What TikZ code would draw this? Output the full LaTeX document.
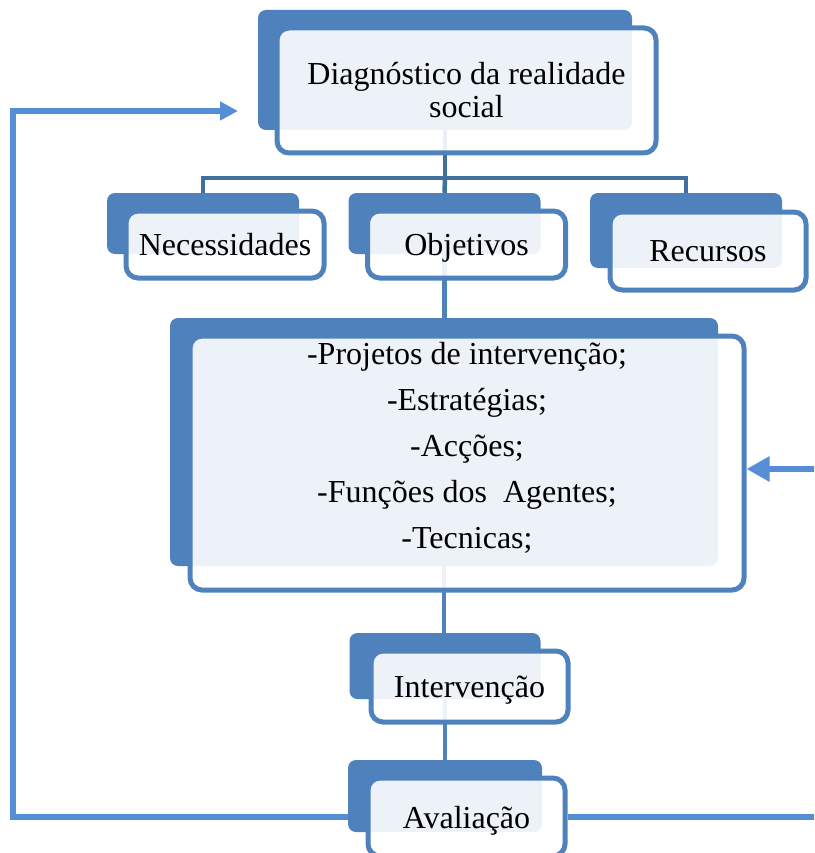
\documentclass[tikz,border=0pt]{standalone}
\usepackage{fontspec}
\setmainfont{Liberation Serif}
\usetikzlibrary{arrows.meta}
\definecolor{backblue}{HTML}{4F81BD}
\definecolor{treeblue}{HTML}{41709F}
\definecolor{loopblue}{HTML}{558ED5}
\begin{document}
\begin{tikzpicture}[x=1pt, y=-1pt,
		backbox/.style={fill=backblue, rounded corners=8pt, inner sep=0pt},
		frontbox/.style={draw=backblue, line width=5pt, fill=white, fill opacity=0.9, text opacity=1, rounded corners=12pt, inner sep=0pt, align=center, font=\fontsize{32}{33}\selectfont},
		tree/.style={draw=treeblue, line width=4.5pt},
		link/.style={draw=backblue, line width=4.5pt},
		loop/.style={draw=loopblue, line width=5.5pt}]
		\useasboundingbox (0,0) rectangle (814,853);
		\clip (0,0) rectangle (814,853);

		\node[backbox, minimum width=374pt, minimum height=120pt] (diagB) at (445,70) {};
		\node[backbox, minimum width=192pt, minimum height=61pt] (necB) at (203,223.5) {};
		\node[backbox, minimum width=192pt, minimum height=61pt] (objB) at (444.5,223.5) {};
		\node[backbox, minimum width=192pt, minimum height=75pt] (recB) at (686,230.5) {};
		\node[backbox, minimum width=548pt, minimum height=248pt] (bigB) at (444,442) {};
		\node[backbox, minimum width=191pt, minimum height=66pt] (intB) at (445,666) {};
		\node[backbox, minimum width=194pt, minimum height=72pt] (avalB) at (445,796) {};

		\coordinate (fork) at (445,178);
		\draw[tree] (diagB.south) -- (fork);
		\draw[tree] (necB.north) |- (fork) -| (recB.north);
		\draw[tree] (fork) -- (objB.north);
		\draw[link] (objB.south) -- (objB.south |- bigB.north);
		\draw[link] (bigB.south) -- (bigB.south |- intB.north);
		\draw[link] (intB.south) -- (intB.south |- avalB.north);

		\node[frontbox, minimum width=379pt, minimum height=125pt] (diag) at (466.5,90.5) {Diagnóstico da realidade\\social};
		\node[frontbox, minimum width=198pt, minimum height=67pt] (nec) at (225,244.5) {Necessidades};
		\node[frontbox, minimum width=198pt, minimum height=67pt] (obj) at (466.5,244.5) {\raisebox{-3pt}[\height][\depth]{Objetivos}};
		\node[frontbox, minimum width=196pt, minimum height=78pt] (rec) at (708,251) {Recursos};
		\node[frontbox, minimum width=554pt, minimum height=254pt] (big) at (467,463) {};
		\node[frontbox, minimum width=197pt, minimum height=71pt] (int) at (469.5,686.5) {\raisebox{-4pt}[\height][\depth]{Intervenção}};
		\node[frontbox, minimum width=197pt, minimum height=78pt] (aval) at (466.5,817) {\raisebox{-4pt}[\height][\depth]{Avaliação}};

		\node[align=center, font=\fontsize{32}{46}\selectfont] (bigtext) at (467,448) {-Projetos de intervenção;\\-Estratégias;\\-Acções;\\-Funções dos\ \ Agentes;\\-Tecnicas;};

		\coordinate (lcorner) at (13,111);
		\coordinate (loopin) at (238,111);
		\coordinate (rcorner) at (830,469);
		\draw[loop, -{Triangle[length=18pt, width=18pt]}] (avalB.west |- aval.center) -| (lcorner) -- (loopin);
		\draw[loop, line width=6.5pt, -{Triangle[length=23pt, width=24pt]}] (aval.east) -| (rcorner) -- (big.east |- rcorner);
	\end{tikzpicture}
\end{document}
